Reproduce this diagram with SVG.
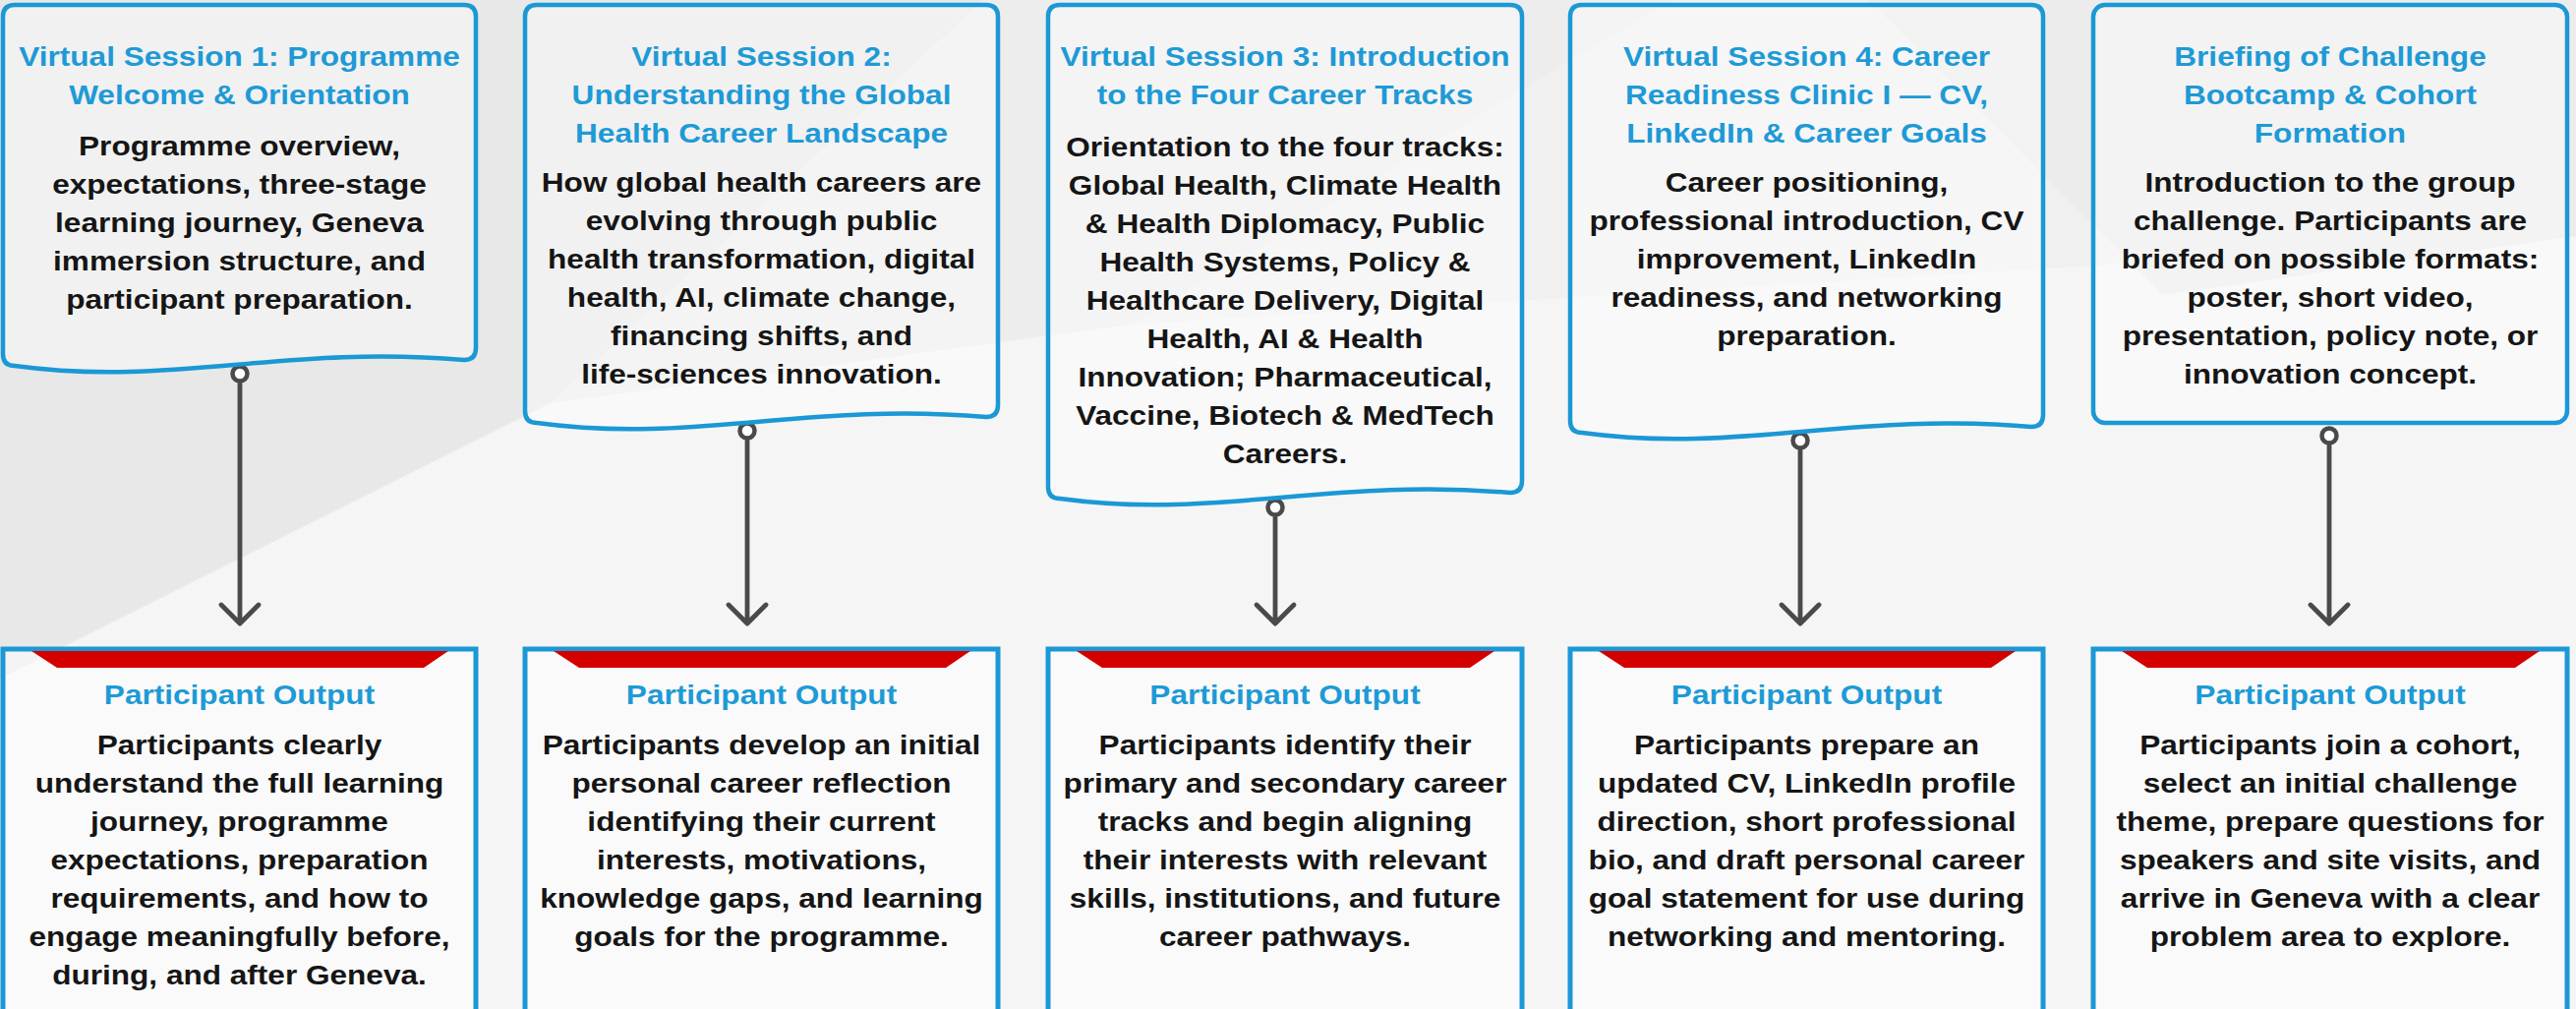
<svg xmlns="http://www.w3.org/2000/svg" width="2620" height="1026" viewBox="0 0 2620 1026">
<defs>
<style>
.bg{fill:#f0f0f0}
.box{fill:#ffffff;fill-opacity:0.4;stroke:#1b98d5;stroke-width:4.5}
.obox{fill:#ffffff;fill-opacity:0.5;stroke:#1b98d5;stroke-width:5}
.band{fill:#d40000}
.t{font-family:"Liberation Sans",Arial,sans-serif;font-weight:700;font-size:28.2px;text-anchor:middle}
.ti{fill:#1e9ad6}
.bd{fill:#151515}
.con{fill:none;stroke:#4a4a4a;stroke-width:4.8;stroke-linecap:round;stroke-linejoin:round}
.dot{fill:#ffffff;stroke:#4a4a4a;stroke-width:4.5}
</style>
</defs>
<rect class="bg" x="0" y="0" width="2620" height="1026"/>
<polygon points="0,0 1000,0 560,410 0,690" fill="#e8e8e8"/>
<polygon points="1000,0 1700,0 1150,330 560,410" fill="#ededed"/>
<polygon points="0,690 560,410 1150,330 2620,240 2620,1026 0,1026" fill="#f5f5f5"/>
<polygon points="1900,0 2620,0 2620,240 2200,300" fill="#ececec"/>

<g id="connectors">
<circle class="dot" cx="244" cy="380" r="7.5"/>
<path class="con" d="M244,390 V633 M225,615 L244,634 L263,615"/>
<circle class="dot" cx="760" cy="438" r="7.5"/>
<path class="con" d="M760,448 V633 M741,615 L760,634 L779,615"/>
<circle class="dot" cx="1297" cy="516" r="7.5"/>
<path class="con" d="M1297,526 V633 M1278,615 L1297,634 L1316,615"/>
<circle class="dot" cx="1831" cy="448" r="7.5"/>
<path class="con" d="M1831,458 V633 M1812,615 L1831,634 L1850,615"/>
<circle class="dot" cx="2369" cy="443" r="7.5"/>
<path class="con" d="M2369,453 V633 M2350,615 L2369,634 L2388,615"/>
</g>

<g id="session1">
<path class="box" d="M3,17 Q3,5 15,5 H472 Q484,5 484,17 V354 Q484,366 472,366 C289,350 175,394 15,372 Q3,372 3,360 Z"/>
<g transform="translate(243.5 0) scale(1.12 1)">
<text class="t ti"><tspan x="0" y="67">Virtual Session 1: Programme</tspan><tspan x="0" y="106">Welcome &amp; Orientation</tspan></text>
<text class="t bd"><tspan x="0" y="158">Programme overview,</tspan><tspan x="0" y="197">expectations, three-stage</tspan><tspan x="0" y="236">learning journey, Geneva</tspan><tspan x="0" y="275">immersion structure, and</tspan><tspan x="0" y="314">participant preparation.</tspan></text>
</g>
</g>

<g id="session2">
<path class="box" d="M534,17 Q534,5 546,5 H1003 Q1015,5 1015,17 V412 Q1015,424 1003,424 C820,408 706,452 546,430 Q534,430 534,418 Z"/>
<g transform="translate(774.5 0) scale(1.12 1)">
<text class="t ti"><tspan x="0" y="67">Virtual Session 2:</tspan><tspan x="0" y="106">Understanding the Global</tspan><tspan x="0" y="145">Health Career Landscape</tspan></text>
<text class="t bd"><tspan x="0" y="195">How global health careers are</tspan><tspan x="0" y="234">evolving through public</tspan><tspan x="0" y="273">health transformation, digital</tspan><tspan x="0" y="312">health, AI, climate change,</tspan><tspan x="0" y="351">financing shifts, and</tspan><tspan x="0" y="390">life-sciences innovation.</tspan></text>
</g>
</g>

<g id="session3">
<path class="box" d="M1066,17 Q1066,5 1078,5 H1536 Q1548,5 1548,17 V489 Q1548,501 1536,501 C1353,485 1238,529 1078,507 Q1066,507 1066,495 Z"/>
<g transform="translate(1307 0) scale(1.12 1)">
<text class="t ti"><tspan x="0" y="67">Virtual Session 3: Introduction</tspan><tspan x="0" y="106">to the Four Career Tracks</tspan></text>
<text class="t bd"><tspan x="0" y="159">Orientation to the four tracks:</tspan><tspan x="0" y="198">Global Health, Climate Health</tspan><tspan x="0" y="237">&amp; Health Diplomacy, Public</tspan><tspan x="0" y="276">Health Systems, Policy &amp;</tspan><tspan x="0" y="315">Healthcare Delivery, Digital</tspan><tspan x="0" y="354">Health, AI &amp; Health</tspan><tspan x="0" y="393">Innovation; Pharmaceutical,</tspan><tspan x="0" y="432">Vaccine, Biotech &amp; MedTech</tspan><tspan x="0" y="471">Careers.</tspan></text>
</g>
</g>

<g id="session4">
<path class="box" d="M1597,17 Q1597,5 1609,5 H2066 Q2078,5 2078,17 V422 Q2078,434 2066,434 C1883,418 1769,462 1609,440 Q1597,440 1597,428 Z"/>
<g transform="translate(1837.5 0) scale(1.12 1)">
<text class="t ti"><tspan x="0" y="67">Virtual Session 4: Career</tspan><tspan x="0" y="106">Readiness Clinic I — CV,</tspan><tspan x="0" y="145">LinkedIn &amp; Career Goals</tspan></text>
<text class="t bd"><tspan x="0" y="195">Career positioning,</tspan><tspan x="0" y="234">professional introduction, CV</tspan><tspan x="0" y="273">improvement, LinkedIn</tspan><tspan x="0" y="312">readiness, and networking</tspan><tspan x="0" y="351">preparation.</tspan></text>
</g>
</g>

<g id="briefing">
<rect class="box" x="2129" y="5" width="482" height="425" rx="12" ry="12"/>
<g transform="translate(2370 0) scale(1.12 1)">
<text class="t ti"><tspan x="0" y="67">Briefing of Challenge</tspan><tspan x="0" y="106">Bootcamp &amp; Cohort</tspan><tspan x="0" y="145">Formation</tspan></text>
<text class="t bd"><tspan x="0" y="195">Introduction to the group</tspan><tspan x="0" y="234">challenge. Participants are</tspan><tspan x="0" y="273">briefed on possible formats:</tspan><tspan x="0" y="312">poster, short video,</tspan><tspan x="0" y="351">presentation, policy note, or</tspan><tspan x="0" y="390">innovation concept.</tspan></text>
</g>
</g>

<g id="output1">
<rect class="obox" x="3" y="660" width="481" height="390"/>
<polygon class="band" points="32,662 456,662 431,679 58,679"/>
<g transform="translate(243.5 0) scale(1.12 1)">
<text class="t ti" x="0" y="716">Participant Output</text>
<text class="t bd"><tspan x="0" y="767">Participants clearly</tspan><tspan x="0" y="806">understand the full learning</tspan><tspan x="0" y="845">journey, programme</tspan><tspan x="0" y="884">expectations, preparation</tspan><tspan x="0" y="923">requirements, and how to</tspan><tspan x="0" y="962">engage meaningfully before,</tspan><tspan x="0" y="1001">during, and after Geneva.</tspan></text>
</g>
</g>

<g id="output2">
<rect class="obox" x="534" y="660" width="481" height="390"/>
<polygon class="band" points="563,662 987,662 962,679 589,679"/>
<g transform="translate(774.5 0) scale(1.12 1)">
<text class="t ti" x="0" y="716">Participant Output</text>
<text class="t bd"><tspan x="0" y="767">Participants develop an initial</tspan><tspan x="0" y="806">personal career reflection</tspan><tspan x="0" y="845">identifying their current</tspan><tspan x="0" y="884">interests, motivations,</tspan><tspan x="0" y="923">knowledge gaps, and learning</tspan><tspan x="0" y="962">goals for the programme.</tspan></text>
</g>
</g>

<g id="output3">
<rect class="obox" x="1066" y="660" width="482" height="390"/>
<polygon class="band" points="1095,662 1520,662 1495,679 1121,679"/>
<g transform="translate(1307 0) scale(1.12 1)">
<text class="t ti" x="0" y="716">Participant Output</text>
<text class="t bd"><tspan x="0" y="767">Participants identify their</tspan><tspan x="0" y="806">primary and secondary career</tspan><tspan x="0" y="845">tracks and begin aligning</tspan><tspan x="0" y="884">their interests with relevant</tspan><tspan x="0" y="923">skills, institutions, and future</tspan><tspan x="0" y="962">career pathways.</tspan></text>
</g>
</g>

<g id="output4">
<rect class="obox" x="1597" y="660" width="481" height="390"/>
<polygon class="band" points="1626,662 2050,662 2025,679 1652,679"/>
<g transform="translate(1837.5 0) scale(1.12 1)">
<text class="t ti" x="0" y="716">Participant Output</text>
<text class="t bd"><tspan x="0" y="767">Participants prepare an</tspan><tspan x="0" y="806">updated CV, LinkedIn profile</tspan><tspan x="0" y="845">direction, short professional</tspan><tspan x="0" y="884">bio, and draft personal career</tspan><tspan x="0" y="923">goal statement for use during</tspan><tspan x="0" y="962">networking and mentoring.</tspan></text>
</g>
</g>

<g id="output5">
<rect class="obox" x="2129" y="660" width="482" height="390"/>
<polygon class="band" points="2158,662 2583,662 2558,679 2184,679"/>
<g transform="translate(2370 0) scale(1.12 1)">
<text class="t ti" x="0" y="716">Participant Output</text>
<text class="t bd"><tspan x="0" y="767">Participants join a cohort,</tspan><tspan x="0" y="806">select an initial challenge</tspan><tspan x="0" y="845">theme, prepare questions for</tspan><tspan x="0" y="884">speakers and site visits, and</tspan><tspan x="0" y="923">arrive in Geneva with a clear</tspan><tspan x="0" y="962">problem area to explore.</tspan></text>
</g>
</g>
</svg>
